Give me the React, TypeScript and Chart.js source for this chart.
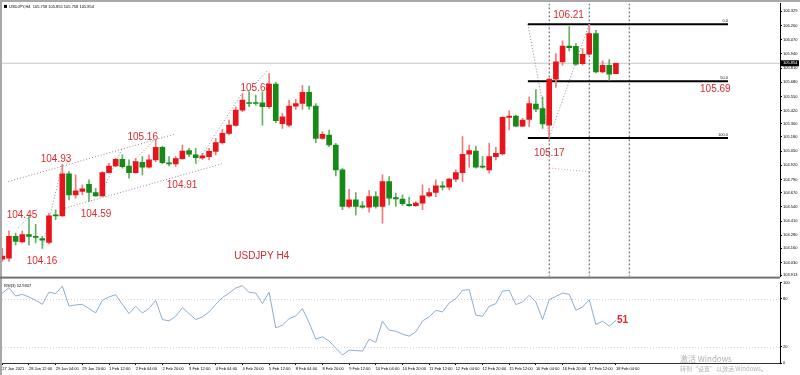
import React, { useEffect, useRef } from "react";
import { Chart, registerables } from "chart.js";

Chart.register(...registerables);

// ---------------- data ----------------
const opens = [
  104.06, 104.07, 104.27, 104.22, 104.285, 104.27, 104.25, 104.215, 104.467, 104.458,
  104.841, 104.65, 104.68, 104.747, 104.671, 104.641, 104.853, 104.914, 104.975, 104.914,
  104.853, 104.948, 104.902, 104.969, 105.085, 104.939, 104.933, 104.981, 105.054, 105.015,
  104.987, 104.999, 105.048, 105.127, 105.212, 105.286, 105.425, 105.492, 105.492, 105.492,
  105.456, 105.663, 105.3, 105.288, 105.462, 105.486, 105.587, 105.462, 105.167, 105.197,
  105.106, 104.878, 104.543, 104.604, 104.55, 104.537, 104.634, 104.543, 104.771, 104.625,
  104.61, 104.562, 104.55, 104.574, 104.641, 104.671, 104.732, 104.72, 104.793, 104.853,
  105.021, 105.051, 104.914, 104.878, 104.999, 105.024, 105.358, 105.371, 105.279, 105.34,
  105.48, 105.44, 105.288, 105.708, 105.866, 106.012, 106.009, 105.851, 105.936, 106.125,
  105.775, 105.836, 105.758,
];
const highs = [
  104.16, 104.32, 104.3, 104.32, 104.45, 104.38, 104.27, 104.48, 104.513, 104.93,
  104.863, 104.832, 104.741, 104.787, 104.71, 104.863, 104.939, 104.984, 105.015, 104.969,
  104.984, 104.999, 105.015, 105.16, 105.097, 104.999, 104.999, 105.106, 105.076, 105.076,
  105.03, 105.076, 105.167, 105.249, 105.334, 105.456, 105.577, 105.593, 105.562, 105.593,
  105.76, 105.68, 105.395, 105.517, 105.523, 105.653, 105.644, 105.486, 105.228, 105.243,
  105.121, 104.893, 104.701, 104.671, 104.589, 104.689, 104.68, 104.832, 104.817, 104.665,
  104.65, 104.628, 104.589, 104.741, 104.71, 104.787, 104.771, 104.802, 104.878, 105.182,
  105.106, 105.097, 104.999, 105.121, 105.085, 105.364, 105.419, 105.38, 105.349, 105.547,
  105.614, 105.547, 105.714, 105.942, 106.058, 106.19, 106.034, 105.988, 106.21, 106.155,
  105.875, 105.888, 105.855,
];
const lows = [
  104.04, 104.04, 104.19, 104.21, 104.19, 104.21, 104.16, 104.2, 104.422, 104.452,
  104.604, 104.62, 104.65, 104.59, 104.635, 104.635, 104.847, 104.908, 104.893, 104.802,
  104.847, 104.832, 104.893, 104.954, 104.933, 104.914, 104.91, 104.975, 104.999, 104.939,
  104.975, 104.969, 105.015, 105.115, 105.197, 105.279, 105.41, 105.456, 105.471, 105.288,
  105.44, 105.31, 105.258, 105.273, 105.432, 105.432, 105.432, 105.127, 105.158, 105.091,
  104.823, 104.513, 104.528, 104.467, 104.528, 104.492, 104.528, 104.391, 104.558, 104.543,
  104.552, 104.543, 104.543, 104.513, 104.628, 104.634, 104.695, 104.695, 104.771, 104.771,
  104.902, 104.893, 104.893, 104.847, 104.969, 105.015, 105.243, 105.273, 105.273, 105.273,
  105.41, 105.258, 105.17, 105.632, 105.836, 105.967, 105.836, 105.836, 105.927, 105.766,
  105.766, 105.699, 105.758,
];
const closes = [
  104.09, 104.27, 104.224, 104.285, 104.27, 104.26, 104.235, 104.458, 104.458, 104.841,
  104.65, 104.686, 104.705, 104.671, 104.641, 104.853, 104.914, 104.975, 104.908, 104.853,
  104.954, 104.902, 104.969, 105.085, 104.945, 104.933, 104.981, 105.051, 105.021, 104.99,
  105.006, 105.048, 105.127, 105.212, 105.289, 105.425, 105.517, 105.486, 105.486, 105.456,
  105.663, 105.328, 105.364, 105.462, 105.486, 105.587, 105.462, 105.167, 105.203, 105.106,
  104.878, 104.543, 104.604, 104.543, 104.537, 104.634, 104.543, 104.771, 104.619, 104.613,
  104.568, 104.55, 104.574, 104.641, 104.671, 104.732, 104.72, 104.793, 104.853, 105.021,
  105.054, 104.902, 104.902, 104.999, 105.03, 105.358, 105.371, 105.279, 105.334, 105.486,
  105.434, 105.298, 105.708, 105.866, 106.012, 105.997, 105.845, 105.936, 106.125, 105.775,
  105.836, 105.754, 105.854,
];
const rsiValues = [
  86.8, 93.4, 83.1, 85.2, 81.9, 77.8, 72.8, 88.0, 86.0, 95.4,
  70.8, 72.0, 72.8, 67.5, 62.1, 77.8, 81.9, 84.8, 72.8, 61.3,
  70.4, 62.1, 67.5, 77.8, 53.9, 52.3, 58.0, 68.7, 61.3, 53.9,
  57.2, 63.4, 72.8, 81.1, 86.8, 93.0, 95.9, 87.7, 86.8, 73.7,
  88.0, 43.6, 46.9, 55.1, 58.4, 67.5, 50.0, 29.6, 32.5, 27.2,
  18.5, 9.9, 16.0, 15.4, 14.8, 29.6, 25.6, 51.9, 40.7, 39.5,
  35.8, 33.3, 38.6, 52.2, 57.2, 65.4, 63.3, 74.4, 79.9, 90.1,
  91.0, 59.3, 58.0, 70.4, 73.7, 89.3, 90.1, 72.5, 75.7, 84.0,
  75.7, 54.0, 78.6, 82.7, 86.8, 85.2, 65.4, 69.5, 78.6, 47.8,
  51.9, 45.7, 52.9,
];
const dateLabels = [
  "27 Jan 2021", "28 Jan 12:00", "29 Jan 04:00", "29 Jan 20:00", "1 Feb 12:00", "2 Feb 04:00",
  "2 Feb 20:00", "3 Feb 12:00", "4 Feb 04:00", "4 Feb 20:00", "5 Feb 12:00", "8 Feb 04:00",
  "8 Feb 20:00", "9 Feb 12:00", "10 Feb 04:00", "10 Feb 20:00", "11 Feb 12:00", "12 Feb 04:00",
  "12 Feb 20:00", "15 Feb 12:00", "16 Feb 04:00", "16 Feb 20:00", "17 Feb 12:00", "18 Feb 04:00",
];
const dateLabelStep = 4;
const priceTicks = [
  106.329, 106.2, 106.07, 105.94, 105.81, 105.68, 105.55, 105.42, 105.3, 105.18,
  105.05, 104.92, 104.79, 104.67, 104.54, 104.41, 104.28, 104.16, 104.03, 103.913,
];
const rsiTicks = [100, 80, 20, 0];
const rsiLevels = [80, 20];
const lastPrice = 105.854;
const headerText = "USDJPY,H4  105.758 105.855 105.758 105.854";
const rsiHeader = "RSI(3) 52.9307";

const fibLevels = [106.21, 105.69, 105.17];
const fibNames = ["0.0", "50.0", "100.0"];
const fibStartBar = 78.8;
const fibEndBar = 108.8;
const markerBars = [82, 88, 94];

const swingLines = [
  [[2.4, 104.35], [4, 104.45]],
  [[6, 104.16], [9, 104.93]],
  [[14.65, 104.634], [17.9, 105.067]],
  [[19.6, 104.954], [22.9, 105.158]],
  [[29.1, 104.933], [35.9, 105.578]],
  [[36.8, 105.592], [39.8, 105.79]],
];
const channelLines = [
  [[0.9, 104.771], [25.9, 105.206]],
  [[9.4, 104.528], [32.9, 104.933]],
];
const fibDiagonal = [[[78.8, 106.21], [82, 105.17], [88, 106.21]]];
const pinkLine = [[[82, 104.896], [88, 104.86]]];

const priceNotes = [
  { text: "104.45", bar: 2.95, price: 104.467 },
  { text: "104.16", bar: 5.95, price: 104.038 },
  { text: "104.93", bar: 8.05, price: 104.978 },
  { text: "104.59", bar: 14.05, price: 104.476 },
  { text: "105.16", bar: 21.05, price: 105.179 },
  { text: "104.91", bar: 26.95, price: 104.741 },
  { text: "105.68", bar: 38.0, price: 105.626 },
  { text: "USDJPY H4", bar: 38.9, price: 104.084 },
  { text: "106.21", bar: 84.9, price: 106.292 },
  { text: "105.69", bar: 106.9, price: 105.617 },
  { text: "105.17", bar: 82.0, price: 105.033 },
];
const rsiNote = { text: "51", bar: 93.0, value: 53 };

// ---------------- ranges & styles ----------------
const X_MIN = -0.045;
const X_MAX = 116.6;
const Y_MIN = 103.9016;
const Y_MAX = 106.4016;

const FONT = '"Liberation Sans", Arial, sans-serif';
const UP = "#e8141c";
const DOWN = "#168a16";
const UP_WICK = "#ee7b7b";
const DOWN_WICK = "#63b063";
const NOTE_RED = "#dc2a2e";

Chart.defaults.font.family = FONT;

const barIdx = opens.map((_, i) => i);
const isUp = (i: number) => closes[i] >= opens[i];

const toPoints = (segs: number[][][]) =>
  segs.flatMap((s) => [
    ...s.map(([x, y]) => ({ x, y })),
    { x: s[s.length - 1][0], y: null as any },
  ]);

const lineDs = (data: any[], color: string, width: number, dash: number[], order = 5) => ({
  type: "line" as const,
  data,
  borderColor: color,
  borderWidth: width,
  borderDash: dash,
  pointRadius: 0,
  pointHoverRadius: 0,
  fill: false,
  tension: 0,
  spanGaps: false,
  order,
});

const mainPlugin = {
  id: "mainDecor",
  beforeDatasetsDraw(chart: any) {
    const { ctx, scales } = chart;
    const x = scales.x;
    const y = scales.y;
    ctx.save();
    ctx.font = `10px ${FONT}`;
    ctx.fillStyle = NOTE_RED;
    ctx.textAlign = "center";
    ctx.textBaseline = "middle";
    priceNotes.forEach((n) => {
      ctx.fillText(n.text, x.getPixelForValue(n.bar), y.getPixelForValue(n.price));
    });
    ctx.restore();
  },
  afterDraw(chart: any) {
    const { ctx, scales, chartArea } = chart;
    const x = scales.x;
    const y = scales.y;
    ctx.save();
    ctx.font = `4px ${FONT}`;
    ctx.fillStyle = "#222";
    ctx.textAlign = "right";
    ctx.textBaseline = "bottom";
    fibLevels.forEach((lv, k) => {
      ctx.fillText(fibNames[k], x.getPixelForValue(fibEndBar), y.getPixelForValue(lv) - 1);
    });
    const py = y.getPixelForValue(lastPrice);
    ctx.fillStyle = "#000";
    ctx.fillRect(chartArea.right + 1, py - 3, 18, 6);
    ctx.fillStyle = "#fff";
    ctx.textAlign = "left";
    ctx.textBaseline = "middle";
    ctx.fillText(lastPrice.toFixed(3), chartArea.right + 3, py);
    ctx.fillStyle = "#000";
    ctx.fillRect(chartArea.left + 2, chartArea.top + 1.5, 3, 3);
    ctx.fillText(headerText, chartArea.left + 7, chartArea.top + 3);
    ctx.fillStyle = "#a8a8a8";
    ctx.fillRect(0, 0, chart.width, 2);
    ctx.fillRect(0, 0, 2, chart.height);
    ctx.fillStyle = "#707070";
    ctx.fillRect(0, chartArea.bottom, chartArea.right, 2);
    ctx.restore();
  },
};

const rsiPlugin = {
  id: "rsiDecor",
  beforeDatasetsDraw(chart: any) {
    const { ctx, scales, chartArea } = chart;
    const y = scales.y;
    ctx.save();
    ctx.strokeStyle = "#d6d6d6";
    ctx.lineWidth = 1;
    ctx.setLineDash([1, 2]);
    rsiLevels.forEach((lv) => {
      const py = Math.round(y.getPixelForValue(lv)) + 0.5;
      ctx.beginPath();
      ctx.moveTo(chartArea.left, py);
      ctx.lineTo(chartArea.right, py);
      ctx.stroke();
    });
    ctx.restore();
  },
  afterDraw(chart: any) {
    const { ctx, scales, chartArea } = chart;
    const x = scales.x;
    const y = scales.y;
    ctx.save();
    ctx.font = `4px ${FONT}`;
    ctx.fillStyle = "#000";
    ctx.textAlign = "left";
    ctx.textBaseline = "middle";
    ctx.fillText(rsiHeader, chartArea.left + 2, chartArea.top + 3);
    ctx.font = `bold 10px ${FONT}`;
    ctx.fillStyle = NOTE_RED;
    ctx.textAlign = "center";
    ctx.fillText(rsiNote.text, x.getPixelForValue(rsiNote.bar), y.getPixelForValue(rsiNote.value));
    ctx.fillStyle = "rgba(150,150,150,0.75)";
    ctx.textAlign = "left";
    ctx.font = `8px "Noto Sans CJK SC", "Noto Sans", sans-serif`;
    ctx.fillText("激活 Windows", chartArea.right - 100, chartArea.bottom - 4);
    ctx.font = `6px "Noto Sans CJK SC", "Noto Sans", sans-serif`;
    ctx.fillText("转到“设置”以激活 Windows。", chartArea.right - 100, chartArea.bottom + 6);
    ctx.fillStyle = "#a8a8a8";
    ctx.fillRect(0, 0, 2, chart.height);
    ctx.restore();
  },
};

function buildMainConfig(): any {
  return {
    type: "bar",
    data: {
      datasets: [
        {
          type: "bar",
          data: barIdx.map((i) => ({ x: i, y: [opens[i], closes[i]] })),
          backgroundColor: barIdx.map((i) => (isUp(i) ? UP : DOWN)),
          barThickness: 5,
          minBarLength: 1,
          grouped: false,
          borderWidth: 0,
          order: 1,
        },
        {
          type: "bar",
          data: barIdx.map((i) => ({ x: i, y: [lows[i], highs[i]] })),
          backgroundColor: barIdx.map((i) => (isUp(i) ? UP_WICK : DOWN_WICK)),
          barThickness: 1,
          grouped: false,
          borderWidth: 0,
          order: 2,
        },
        lineDs([{ x: X_MIN, y: lastPrice }, { x: X_MAX, y: lastPrice }], "#c6c6c6", 1, [], 9),
        lineDs(
          toPoints(markerBars.map((b) => [[b, Y_MAX], [b, Y_MIN]])),
          "#555555",
          1,
          [2, 2],
          8
        ),
        lineDs(toPoints(swingLines), "#8a8a8a", 1, [1, 2]),
        lineDs(toPoints(channelLines), "#8a8a8a", 1, [1, 2]),
        lineDs(toPoints(fibDiagonal), "#8a8a8a", 1, [1, 2]),
        lineDs(toPoints(pinkLine), "#e59a9a", 1, [1, 2]),
        lineDs(
          toPoints(fibLevels.map((lv) => [[fibStartBar, lv], [fibEndBar, lv]])),
          "#000000",
          2,
          [],
          3
        ),
      ],
    },
    options: {
      responsive: false,
      animation: false,
      events: [],
      layout: { padding: { left: 2, top: 3, right: 0, bottom: 3 } },
      plugins: { legend: { display: false }, tooltip: { enabled: false } },
      scales: {
        x: {
          type: "linear",
          min: X_MIN,
          max: X_MAX,
          offset: false,
          display: false,
          grid: { offset: false },
        },
        y: {
          type: "linear",
          position: "right",
          min: Y_MIN,
          max: Y_MAX,
          afterBuildTicks: (s: any) => {
            s.ticks = priceTicks.map((v) => ({ value: v }));
          },
          afterFit: (s: any) => {
            s.width = 20;
          },
          ticks: {
            autoSkip: false,
            font: { size: 4, family: FONT },
            color: "#000",
            padding: 1,
            callback: (v: any) => Number(v).toFixed(3),
          },
          grid: { drawOnChartArea: false, drawTicks: true, tickLength: 2, tickColor: "#000" },
          border: { display: true, color: "#000", width: 1 },
        },
      },
    },
    plugins: [mainPlugin],
  };
}

function buildRsiConfig(): any {
  return {
    type: "line",
    data: {
      datasets: [
        {
          data: rsiValues.map((v, i) => ({ x: i, y: v })),
          borderColor: "#8aaed0",
          borderWidth: 1,
          pointRadius: 0,
          pointHoverRadius: 0,
          fill: false,
          tension: 0,
        },
      ],
    },
    options: {
      responsive: false,
      animation: false,
      events: [],
      layout: { padding: { left: 2, top: 3, right: 0, bottom: 0 } },
      plugins: { legend: { display: false }, tooltip: { enabled: false } },
      scales: {
        x: {
          type: "linear",
          min: X_MIN,
          max: X_MAX,
          offset: false,
          afterBuildTicks: (s: any) => {
            s.ticks = dateLabels.map((_, k) => ({ value: k * dateLabelStep }));
          },
          afterFit: (s: any) => {
            s.height = 12;
          },
          ticks: {
            autoSkip: false,
            maxRotation: 0,
            minRotation: 0,
            align: "start",
            padding: 1,
            font: { size: 4, family: FONT },
            color: "#000",
            callback: (_v: any, idx: number) => dateLabels[idx] ?? "",
          },
          grid: { drawOnChartArea: false, drawTicks: true, tickLength: 2, tickColor: "#000" },
          border: { display: true, color: "#333", width: 1 },
        },
        y: {
          type: "linear",
          position: "right",
          min: 0,
          max: 100,
          afterBuildTicks: (s: any) => {
            s.ticks = rsiTicks.map((v) => ({ value: v }));
          },
          afterFit: (s: any) => {
            s.width = 20;
          },
          ticks: {
            autoSkip: false,
            font: { size: 4, family: FONT },
            color: "#000",
            padding: 1,
          },
          grid: { drawOnChartArea: false, drawTicks: true, tickLength: 2, tickColor: "#000" },
          border: { display: true, color: "#000", width: 1 },
        },
      },
    },
    plugins: [rsiPlugin],
  };
}

export default function App() {
  const mainRef = useRef<HTMLCanvasElement>(null);
  const rsiRef = useRef<HTMLCanvasElement>(null);

  useEffect(() => {
    if (!mainRef.current || !rsiRef.current) return;
    const main = new Chart(mainRef.current, buildMainConfig());
    const rsi = new Chart(rsiRef.current, buildRsiConfig());
    return () => {
      main.destroy();
      rsi.destroy();
    };
  }, []);

  return (
    <div
      style={{
        position: "fixed",
        left: 0,
        top: 0,
        width: 800,
        height: 375,
        background: "#ffffff",
        overflow: "hidden",
      }}
    >
      <canvas
        ref={mainRef}
        width={800}
        height={280}
        style={{ position: "absolute", left: 0, top: 0, display: "block" }}
      />
      <canvas
        ref={rsiRef}
        width={800}
        height={96}
        style={{ position: "absolute", left: 0, top: 279, display: "block" }}
      />
    </div>
  );
}
